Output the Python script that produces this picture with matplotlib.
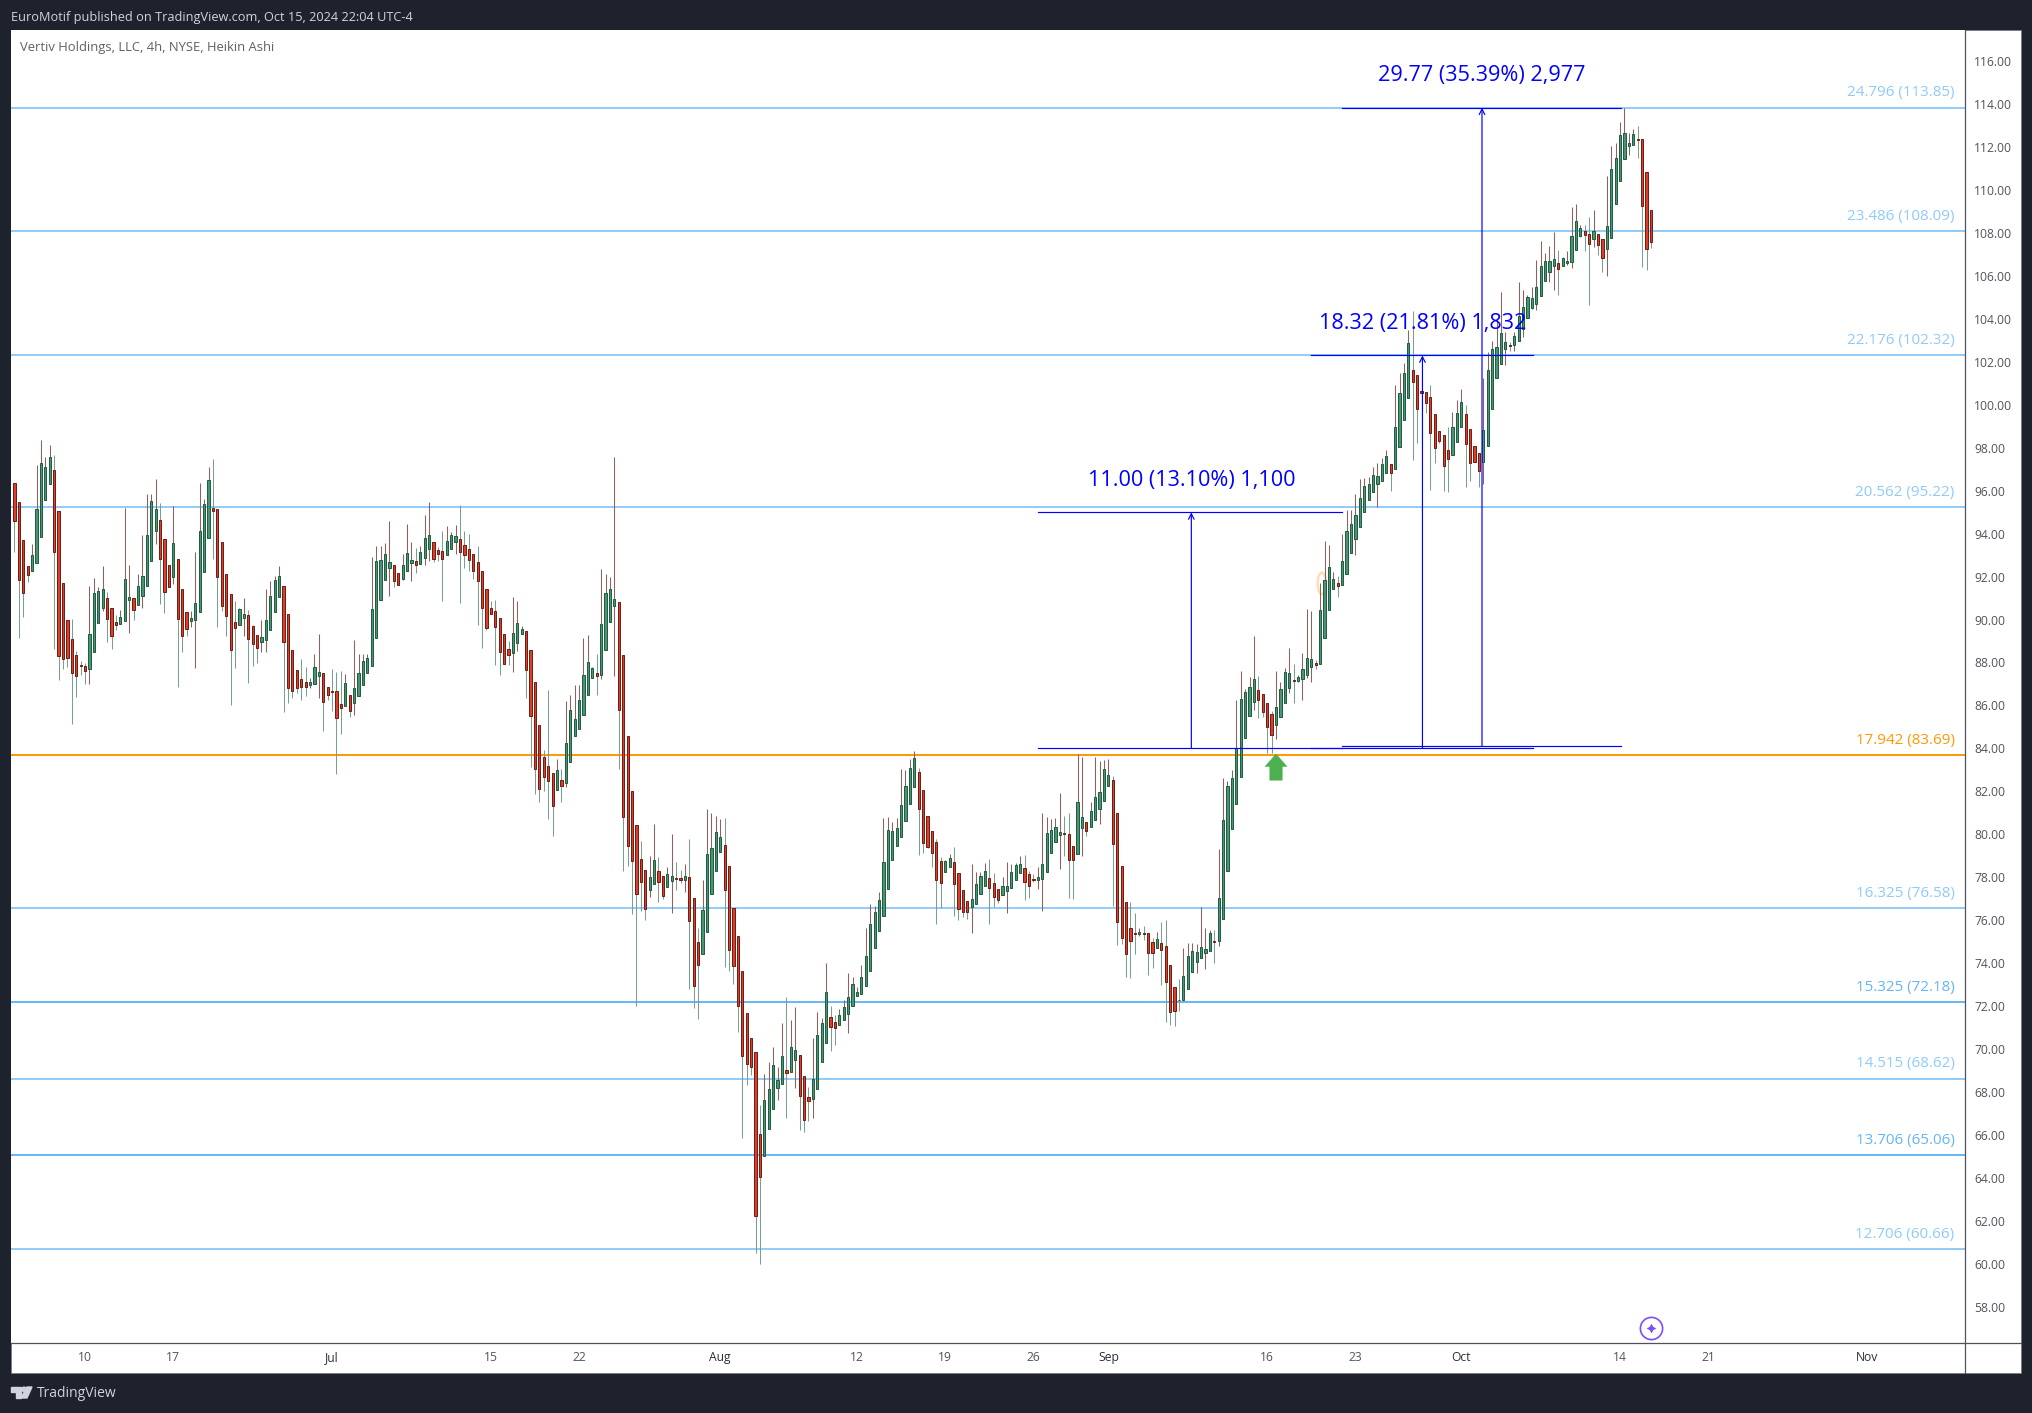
import matplotlib
matplotlib.use("Agg")
import matplotlib.pyplot as plt
from matplotlib.patches import Rectangle, Polygon, Ellipse

plt.rcParams['font.family'] = ['Open Sans', 'DejaVu Sans']

# ------------------ datos de las velas (Heikin Ashi, 4h) ------------------
opens = [
    96.34,95.46,93.69,92.47,92.27,92.64,93.86,95.58,96.32,96.95,
    95.04,91.68,89.96,89.07,88.33,87.86,87.82,87.71,88.50,89.85,
    90.55,90.98,90.52,89.88,89.80,89.94,90.91,90.98,90.69,91.11,
    91.57,92.74,94.14,94.62,93.73,92.52,91.99,92.80,91.40,90.33,
    89.94,89.99,90.36,92.23,93.81,95.18,95.13,93.59,92.10,91.17,
    89.87,89.76,90.08,90.19,89.68,89.26,88.97,89.06,89.52,90.33,
    91.06,91.54,90.24,88.56,87.63,87.21,87.07,86.96,87.01,87.38,
    87.49,86.84,86.65,86.65,86.05,85.95,86.47,86.12,86.45,86.96,
    87.52,87.85,89.15,90.92,91.85,92.41,92.52,92.19,91.90,92.24,
    92.65,92.71,92.60,92.88,93.30,93.59,93.22,93.17,92.99,93.30,
    93.59,93.73,93.45,93.27,93.03,92.66,92.24,91.40,90.52,90.42,
    90.05,89.31,88.61,88.45,88.92,89.34,89.45,88.56,87.07,85.07,
    83.58,83.16,82.83,82.07,82.51,82.40,83.34,84.56,84.91,85.57,
    86.50,87.26,87.49,87.43,88.59,89.90,90.64,90.80,88.33,84.56,
    81.99,80.41,78.83,78.31,77.41,77.69,78.27,78.03,77.55,77.82,
    77.94,77.96,77.88,77.99,77.01,74.96,74.43,75.46,77.23,78.30,
    79.18,79.52,78.50,76.54,75.24,73.61,71.65,70.49,69.84,66.02,
    65.02,66.28,67.21,68.19,68.38,69.00,68.94,69.49,69.70,68.76,
    67.74,67.68,68.14,69.40,70.29,71.47,71.23,71.12,71.36,71.64,
    72.01,72.47,72.57,72.94,73.64,74.71,75.50,76.20,77.47,78.81,
    79.46,79.88,80.63,81.42,82.21,82.88,82.04,80.83,80.13,79.62,
    78.73,78.25,78.48,78.69,78.17,77.38,76.87,76.60,76.76,77.23,
    77.60,77.94,77.75,77.43,77.18,77.37,77.51,77.88,78.20,78.41,
    78.13,77.89,77.88,77.93,78.25,79.14,79.65,79.97,80.04,79.99,
    79.43,79.09,80.30,80.55,80.35,80.67,81.18,81.56,82.26,82.52,
    81.01,78.50,76.82,75.61,75.38,75.37,75.38,75.38,74.96,74.71,
    74.91,74.77,73.93,72.86,72.30,72.29,72.80,73.56,74.06,74.24,
    74.48,74.57,75.01,75.01,76.03,78.30,80.25,81.42,82.68,84.50,
    85.52,86.17,86.70,86.51,86.09,85.58,85.10,85.47,86.13,86.82,
    87.16,87.14,87.24,87.43,87.80,87.96,87.94,89.15,90.46,91.43,
    91.68,91.62,92.13,93.11,93.76,94.32,94.99,95.58,95.95,96.33,
    96.47,96.84,97.23,97.03,98.02,99.28,100.33,101.60,101.37,100.64,
    100.58,100.35,99.55,98.76,98.58,97.88,97.68,98.28,98.95,99.55,
    98.86,98.07,97.74,97.35,98.07,99.82,101.23,101.92,102.61,102.77,
    102.77,102.99,103.55,104.06,104.52,104.71,105.08,105.78,106.20,106.48,
    106.63,106.48,106.62,106.67,107.22,107.88,108.08,107.98,107.74,107.94,
    107.71,107.27,107.78,109.37,110.44,111.46,112.07,112.11,112.36,112.36,110.83,109.06,
]
closes = [
    94.60,91.85,91.25,92.09,92.99,95.13,97.27,97.09,97.55,93.16,
    88.31,88.17,88.22,87.52,87.38,87.85,87.61,89.31,91.22,91.31,
    91.40,90.04,89.24,89.76,90.10,91.87,91.03,90.46,91.54,92.05,
    93.92,95.50,95.13,92.83,91.29,91.53,93.55,90.04,89.24,89.57,
    90.05,90.75,94.10,95.36,96.48,95.07,91.99,90.64,90.18,88.59,
    89.62,90.47,90.24,89.11,88.87,88.69,89.17,89.99,91.08,91.82,
    92.01,88.97,86.82,86.68,86.82,86.87,86.87,87.09,87.77,87.54,
    86.17,86.48,86.64,85.39,85.89,87.02,85.75,86.79,87.49,88.05,
    88.19,90.47,92.71,92.75,93.03,92.66,91.81,91.62,92.52,93.08,
    92.75,92.55,93.13,93.78,93.92,92.83,93.06,92.83,93.64,93.92,
    93.87,93.16,93.02,92.78,92.27,91.81,90.55,89.62,90.27,89.66,
    88.50,87.94,88.36,89.35,89.82,89.54,87.66,85.52,83.05,82.12,
    82.68,82.49,81.33,82.97,82.26,84.23,85.77,85.35,86.23,87.40,
    88.00,87.72,87.38,89.77,91.22,91.40,90.94,85.80,80.81,79.46,
    78.76,77.23,77.79,76.53,77.99,78.78,77.79,77.13,78.13,78.03,
    77.93,77.88,78.03,75.97,72.94,73.92,76.45,79.06,79.34,80.08,
    79.85,77.41,74.62,73.87,72.01,69.68,69.31,69.17,62.23,64.04,
    67.60,68.11,69.23,68.53,69.65,68.89,70.07,69.93,67.82,66.70,
    67.58,68.62,70.67,71.19,72.63,71.03,70.98,71.56,71.93,72.40,
    73.00,72.63,73.33,74.31,75.80,76.36,76.92,78.69,80.18,80.13,
    80.27,81.34,82.23,83.07,83.53,81.19,79.60,79.41,79.14,77.88,
    77.74,78.73,78.87,77.69,76.53,76.39,76.39,76.96,77.66,78.03,
    78.27,77.51,77.09,76.95,77.57,77.61,78.22,78.56,78.59,77.79,
    77.60,77.88,77.99,78.59,80.04,80.18,80.32,80.08,80.03,78.81,
    78.81,81.48,80.78,80.16,81.06,81.71,81.95,83.02,82.76,79.55,
    75.92,75.18,74.43,75.04,75.37,75.44,75.37,74.48,74.48,75.10,
    74.62,73.13,71.73,71.78,72.29,73.38,74.31,74.54,74.49,74.73,
    74.63,75.38,75.00,77.05,80.65,82.23,82.60,84.00,86.28,86.61,
    86.84,87.21,86.26,85.71,85.01,84.64,85.91,86.75,87.54,87.49,
    87.15,87.31,87.68,88.19,88.14,87.90,90.43,91.82,92.43,91.87,
    91.57,92.71,94.10,94.43,94.85,95.64,96.20,96.30,96.71,96.67,
    97.23,97.61,96.84,98.95,100.53,101.46,102.86,101.07,99.82,100.53,
    100.10,98.70,98.00,98.33,97.17,97.49,98.95,99.60,100.11,98.19,
    97.27,97.35,96.93,98.81,101.60,102.58,102.68,103.33,102.91,102.75,
    103.19,104.13,104.54,105.00,104.96,105.47,106.49,106.68,106.72,106.77,
    106.34,106.82,106.72,107.85,108.54,108.26,107.92,107.50,108.12,107.45,
    106.85,108.31,110.97,111.52,112.55,112.64,112.18,112.60,112.35,109.27,107.27,107.60,
]
highs = [
    96.34,95.46,93.69,92.47,93.50,97.19,98.36,97.57,98.13,97.66,
    95.04,91.68,89.96,90.02,88.53,88.08,87.96,91.56,91.93,91.50,
    92.49,91.28,90.52,90.21,90.44,95.19,92.54,90.98,92.12,93.93,
    95.87,95.84,96.54,95.41,93.73,92.52,95.28,92.80,91.40,90.33,
    90.39,93.14,96.36,95.61,97.12,97.47,95.13,93.59,92.10,91.17,
    90.86,90.53,91.00,90.44,89.73,89.26,89.97,91.42,91.79,92.02,
    92.49,91.54,90.24,88.56,87.63,88.16,87.79,87.26,88.39,89.31,
    87.49,86.84,87.69,87.55,87.60,87.46,86.47,89.04,88.39,88.39,
    88.39,92.91,93.42,93.42,93.55,94.59,92.52,92.19,93.05,94.45,
    93.61,93.33,93.42,94.87,95.47,93.59,93.38,94.12,94.35,94.06,
    94.38,95.33,94.12,93.98,93.03,93.42,92.24,91.40,90.86,90.91,
    90.05,89.31,89.00,91.05,90.86,89.69,89.45,88.56,87.07,85.07,
    83.90,86.74,82.83,83.48,83.02,86.20,86.48,86.93,86.93,89.14,
    89.26,87.77,88.39,92.35,92.10,91.96,97.55,90.80,88.33,84.56,
    81.99,80.41,79.68,78.31,78.98,80.47,78.92,78.03,78.45,79.99,
    78.72,78.33,78.61,79.77,77.01,75.61,77.86,81.17,81.01,80.84,
    80.69,80.75,78.50,76.54,75.24,73.61,71.65,70.49,69.84,67.38,
    68.83,69.39,70.08,69.17,71.20,72.41,71.34,71.93,69.70,68.76,
    68.22,70.50,71.70,71.45,74.00,71.99,71.57,71.88,72.27,73.53,
    73.34,72.88,73.93,75.61,76.73,76.65,77.32,80.75,80.80,80.58,
    80.75,83.04,82.99,83.50,83.87,83.07,82.04,80.83,80.13,79.77,
    78.96,78.79,79.10,79.40,78.17,77.38,76.87,78.61,78.25,78.22,
    78.64,78.84,78.19,77.43,77.99,78.69,78.61,78.64,78.98,79.04,
    78.28,78.14,78.45,80.98,80.78,80.70,80.75,81.91,80.84,80.98,
    79.43,83.72,83.60,80.55,81.48,83.61,83.42,83.45,83.52,82.70,
    81.01,78.50,76.82,76.84,76.33,75.61,75.72,75.38,75.16,75.44,
    75.91,76.00,73.93,72.86,73.25,74.71,74.91,74.94,74.90,76.60,
    75.63,75.55,75.55,79.31,82.60,82.48,82.99,86.25,87.58,86.75,
    87.31,89.23,87.35,86.51,86.09,85.75,87.58,87.09,87.72,88.66,
    87.93,87.40,88.42,90.49,90.40,88.11,91.68,93.65,93.47,92.21,
    92.03,93.98,95.10,95.10,95.85,96.54,96.57,96.65,97.12,97.27,
    97.51,97.89,97.23,100.92,101.50,101.93,103.48,104.37,101.37,100.99,
    100.58,100.92,99.55,98.76,98.58,98.98,99.66,100.22,100.72,99.99,
    98.86,98.07,97.74,101.23,102.44,102.99,104.03,105.25,103.37,102.95,
    103.37,105.72,105.35,105.10,105.49,106.74,107.63,107.07,107.39,108.05,
    107.21,106.87,107.16,109.21,109.35,108.40,108.40,108.75,109.06,107.94,
    107.71,110.65,112.05,112.19,113.17,113.82,112.64,112.84,112.98,112.36,110.83,109.06,
]
lows = [
    93.16,89.14,90.11,91.74,92.27,92.64,93.86,95.58,96.32,88.64,
    87.18,87.69,87.80,85.13,86.39,87.41,86.99,86.99,88.50,89.85,
    90.41,88.95,88.62,89.51,89.80,89.94,89.37,89.97,90.69,90.53,
    91.57,92.74,93.51,90.72,90.30,91.53,91.65,86.85,88.48,89.23,
    89.65,87.74,90.36,92.23,93.81,92.82,89.65,90.39,89.23,86.02,
    87.74,89.76,89.21,87.04,87.83,87.97,88.48,88.48,89.52,90.33,
    91.06,85.69,86.11,86.33,86.59,86.25,86.43,86.79,87.01,86.33,
    84.80,86.25,85.74,82.80,84.66,85.95,85.46,85.57,86.45,86.96,
    87.52,87.85,89.15,90.92,91.85,91.09,91.53,91.59,91.85,92.24,
    91.79,92.16,92.60,92.55,92.74,92.67,92.74,90.86,92.99,93.30,
    93.03,90.77,92.38,92.27,91.90,89.74,88.67,89.52,90.27,87.88,
    87.40,87.91,87.88,87.55,88.53,89.34,86.34,83.14,81.89,81.50,
    82.02,80.70,79.90,82.07,81.50,82.21,83.34,84.56,84.91,85.57,
    86.50,87.26,86.48,87.23,88.59,89.90,87.37,83.03,78.30,78.51,
    76.28,71.99,76.43,76.01,77.09,77.69,76.85,76.98,77.55,76.34,
    77.40,77.74,77.32,72.79,71.90,71.40,74.43,75.46,77.23,78.30,
    79.18,73.81,73.62,73.02,70.78,65.85,68.31,68.78,60.50,59.98,
    65.02,66.28,67.21,67.62,68.38,66.78,68.94,68.17,66.22,66.12,
    66.64,66.78,68.14,69.40,70.29,69.90,70.18,71.12,71.36,70.74,
    72.01,72.47,72.57,72.94,73.64,74.71,75.50,76.20,77.47,78.81,
    79.46,79.88,80.63,81.42,82.21,79.04,79.14,79.34,78.47,75.81,
    76.56,78.25,78.48,76.19,76.00,76.12,76.06,75.39,76.76,77.23,
    77.60,75.81,76.60,76.79,77.18,76.34,77.51,77.88,78.20,76.93,
    77.02,77.76,77.47,76.42,78.25,79.14,79.65,78.37,78.98,77.02,
    76.98,79.09,78.98,79.91,80.35,80.67,80.47,81.56,82.26,76.65,
    74.83,74.90,73.34,73.30,74.42,75.27,75.07,73.44,73.76,74.71,
    72.97,71.25,71.11,71.06,71.75,72.29,72.80,73.56,73.55,74.24,
    73.72,74.57,74.01,74.79,76.03,78.30,80.25,81.42,82.68,84.50,
    85.52,85.78,85.41,85.46,83.78,83.78,84.43,85.47,86.13,86.59,
    86.13,87.09,86.25,87.29,87.10,87.71,87.94,89.15,90.46,91.43,
    91.05,91.62,92.13,93.11,93.00,94.32,94.99,95.58,95.95,95.25,
    96.47,96.84,96.00,97.03,98.02,99.28,100.33,97.43,98.22,100.53,
    99.63,96.03,97.30,98.20,95.98,95.95,97.68,98.28,98.95,96.19,
    96.45,97.35,96.19,96.33,98.07,99.82,101.23,101.92,101.85,102.52,
    102.52,102.99,103.16,104.06,104.46,104.41,105.08,105.78,105.73,105.35,
    105.11,106.48,106.51,106.39,107.22,107.83,107.16,104.66,107.36,106.99,
    106.18,106.01,107.78,109.37,110.44,111.46,111.63,112.11,111.49,106.42,106.28,107.30,
]

# niveles horizontales
level_prices = [113.85, 108.09, 102.32, 95.22, 83.69, 76.58, 72.18, 68.62, 65.06, 60.66]
level_labels = ['24.796 (113.85)', '23.486 (108.09)', '22.176 (102.32)', '20.562 (95.22)', '17.942 (83.69)',
                '16.325 (76.58)', '15.325 (72.18)', '14.515 (68.62)', '13.706 (65.06)', '12.706 (60.66)']
level_colors = ['#90caf9', '#90caf9', '#90caf9', '#90caf9', '#ff9800',
                '#90caf9', '#64b5f6', '#90caf9', '#64b5f6', '#90caf9']

# medidas de precio (indice de vela y precio)
range_labels = ['11.00 (13.10%) 1,100', '18.32 (21.81%) 1,832', '29.77 (35.39%) 2,977']
range_left = [232, 293.9, 300.9]
range_right = [301, 344.2, 364.2]
range_mid = [266.8, 319.2, 332.7]
range_bottom = [84.0, 84.0, 84.09]
range_top = [94.99, 102.3, 113.84]
range_text_y = [96.48, 103.78, 115.33]

# ejes
x_tick_pos = [16, 36, 72, 108, 128, 160, 191, 211, 231, 248, 284, 304, 328, 364, 384, 420]
x_tick_labels = ['10', '17', 'Jul', '15', '22', 'Aug', '12', '19', '26', 'Sep', '16', '23', 'Oct', '14', '21', 'Nov']
y_ticks = list(range(58, 118, 2))

W, H = 2032, 1413
DARK = '#1e222d'
AXIS = '#50535e'

fig = plt.figure(figsize=(W / 100, H / 100), dpi=100, facecolor=DARK)

# capa de fondo en pixeles
bg = fig.add_axes([0, 0, 1, 1], zorder=0)
bg.set_xlim(0, W)
bg.set_ylim(H, 0)
bg.axis('off')
bg.add_patch(Rectangle((11, 30), 2010, 1343, facecolor='white', edgecolor='#787b86', lw=0.6))
bg.text(11, 17, 'EuroMotif published on TradingView.com, Oct 15, 2024 22:04 UTC-4',
        color='#d1d4dc', fontsize=9.2, va='center', ha='left')
bg.text(36.5, 1393.5, 'TradingView', color='#d1d4dc', fontsize=10, va='center', ha='left')
# logo de TradingView
bg.add_patch(Polygon([(11, 1387), (21, 1387), (21, 1398), (16, 1398), (16, 1392), (11, 1392)], color='#d1d4dc'))
bg.add_patch(Ellipse((24, 1389.3), 4, 4.4, color='#d1d4dc'))
bg.add_patch(Polygon([(27, 1387), (32, 1387), (27, 1398), (21, 1398)], color='#d1d4dc'))

# grafico principal
ax = fig.add_axes([11 / W, 1 - 1343 / H, (1965 - 11) / W, (1343 - 30) / H], zorder=1)
ax.set_facecolor('white')
ax.set_xlim(-0.79, 442.2)
ax.set_ylim(56.30, 117.46)
for spine in ax.spines.values():
    spine.set_visible(False)

ax.yaxis.tick_right()
ax.set_yticks(y_ticks)
ax.set_yticklabels([f'{v:.2f}' for v in y_ticks])
ax.set_xticks(x_tick_pos)
ax.set_xticklabels(x_tick_labels)
ax.tick_params(axis='y', length=0, pad=6.8, labelsize=8.7, labelcolor=AXIS)
ax.tick_params(axis='x', length=0, pad=5.5, labelsize=8.7, labelcolor=AXIS)
for lab in ax.get_xticklabels():
    if lab.get_text() in ('Jul', 'Aug', 'Sep', 'Oct', 'Nov'):
        lab.set_color('#2a2e39')

for price, label, color in zip(level_prices, level_labels, level_colors):
    ax.axhline(price, color=color, lw=1.4, zorder=1)
    ax.annotate(label, xy=(1, price), xycoords=('axes fraction', 'data'), xytext=(-7.5, 8),
                textcoords='offset points', ha='right', va='baseline', color=color, fontsize=10.9, zorder=5)

# velas: la mecha va en el color contrario al cuerpo
for i in range(len(opens)):
    up = closes[i] > opens[i]
    ax.vlines(i, lows[i], highs[i], color='#8f605c' if up else '#7a9f8f', lw=0.75, zorder=2)
    ax.bar(i, abs(closes[i] - opens[i]), bottom=min(opens[i], closes[i]), width=0.5,
           facecolor='#4b9473' if up else '#dd3e2a', edgecolor='#1c5c3c' if up else '#6e1a10',
           linewidth=0.7, zorder=3)

# medidas en azul
for i in range(len(range_labels)):
    ax.plot([range_left[i], range_right[i]], [range_bottom[i], range_bottom[i]], color='#0000ff', lw=0.85, zorder=4)
    ax.plot([range_left[i], range_right[i]], [range_top[i], range_top[i]], color='#0000ff', lw=0.85, zorder=4)
    ax.annotate('', xy=(range_mid[i], range_top[i]), xytext=(range_mid[i], range_bottom[i]),
                arrowprops=dict(arrowstyle='->', color='#0000ff', lw=0.85, mutation_scale=10,
                                shrinkA=0, shrinkB=0), zorder=4)
    ax.text(range_mid[i], range_text_y[i], range_labels[i], color='#0000ff', fontsize=15.6,
            ha='center', va='center', zorder=6)

# flecha verde y marcas sueltas
ax.annotate('', xy=(286, 83.75), xytext=(286, 82.5),
            arrowprops=dict(width=9.4, headwidth=16.5, headlength=9.4, color='#4caf50', shrink=0, lw=0), zorder=4)
ax.add_patch(Ellipse((296.4, 91.68), 1.9, 1.0, facecolor='none', edgecolor='#ffd2a8', lw=1.8, alpha=0.8, zorder=1.5))
ax.plot([371], [57.0], marker='o', ms=16, mfc='white', mec='#7c4dff', mew=1.2, zorder=6, clip_on=False)
ax.plot([371], [57.0], marker=(4, 1, 0), ms=7, color='#7c4dff', mew=0, zorder=7)

ax.text(9 / (1965 - 11), 1 - 17.5 / (1343 - 30), 'Vertiv Holdings, LLC, 4h, NYSE, Heikin Ashi',
        transform=ax.transAxes, color='#5d606b', fontsize=9.4, va='center', ha='left')

# bordes de las escalas, por encima de todo
bg2 = fig.add_axes([0, 0, 1, 1], zorder=2)
bg2.set_xlim(0, W)
bg2.set_ylim(H, 0)
bg2.axis('off')
bg2.plot([11, 2021], [1343, 1343], color=AXIS, lw=0.9)
bg2.plot([1965, 1965], [30, 1373], color=AXIS, lw=0.9)

fig.savefig('out.png', dpi=100, facecolor=DARK)
